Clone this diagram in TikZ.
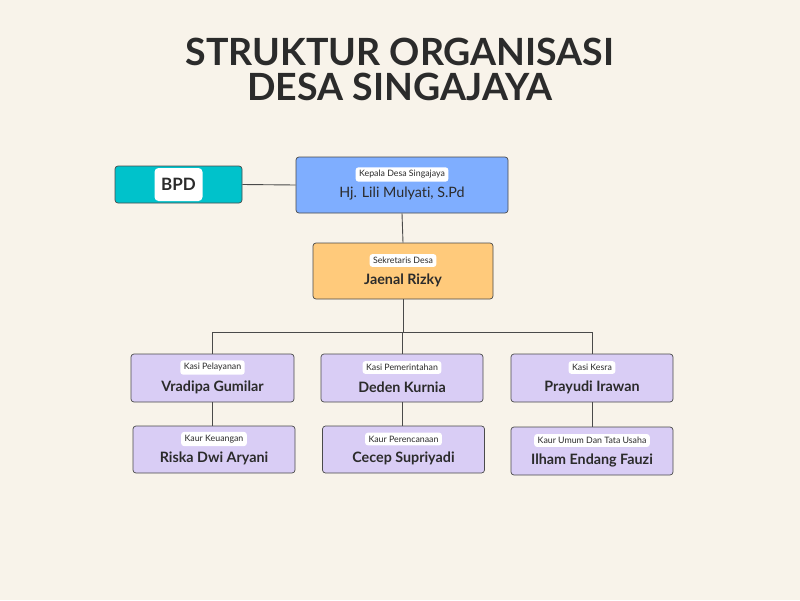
\documentclass[tikz,border=0pt]{standalone}
\usepackage{fontspec}
\setmainfont{Lato}[Ligatures={NoCommon,NoRare}]
\usetikzlibrary{positioning}
\definecolor{paper}{HTML}{F8F3EA}
\definecolor{ink}{HTML}{2B2B2B}
\definecolor{linegray}{HTML}{4A4A4A}
\definecolor{bpdteal}{HTML}{00C2CB}
\definecolor{kadesblue}{HTML}{7FAEFF}
\definecolor{sekorange}{HTML}{FFCA7B}
\definecolor{staffviolet}{HTML}{D9CDF5}
\tikzset{
  orgbox/.style={draw=linegray,line width=0.7pt,rounded corners=3pt,inner sep=0pt},
  rolepill/.style={fill=white,rounded corners=3pt,inner xsep=3.5pt,inner ysep=3.2pt,text=ink,
    font=\fontsize{8.8}{9}\selectfont},
  persontext/.style={text=ink,font=\bfseries\fontsize{14.3}{15}\selectfont},
  orgline/.style={draw=linegray,line width=0.9pt},
  titletext/.style={text=ink,align=center,font=\bfseries\fontsize{37.5}{35}\selectfont}
}
% box name, centre x, centre y, width, height, fill, role, person
\newcommand{\orgunit}[8]{%
  \node[orgbox,fill=#6,minimum width=#4pt,minimum height=#5pt] (#1) at (#2,#3) {};
  \node[rolepill] (#1-role) at ([yshift=10.5pt]#1.center) {#7};
  \node[persontext] (#1-name) at ([yshift=-9pt]#1.center) {#8};
}

\begin{document}
\begin{tikzpicture}[x=1pt,y=-1pt]
  \useasboundingbox[fill=paper] (0,0) rectangle (800,600);
  \node[titletext] (title) at (400,69) {STRUKTUR ORGANISASI\\DESA SINGAJAYA};

  % BPD
  \node[orgbox,fill=bpdteal,minimum width=127pt,minimum height=37pt] (bpd) at (178.5,184.5) {};
  \node[fill=white,rounded corners=4pt,minimum width=48pt,minimum height=33pt,inner sep=0pt,
    text=ink,font=\bfseries\fontsize{17}{18}\selectfont] (bpd-name) at (bpd.center) {BPD};

  \orgunit{kades}{402}{185}{212}{56}{kadesblue}{Kepala Desa Singajaya}{\mdseries Hj. Lili Mulyati, S.Pd}
  \orgunit{sekdes}{403}{271}{180}{56}{sekorange}{Sekretaris Desa}{Jaenal Rizky}

  \orgunit{kspel}{212.5}{378}{163}{48}{staffviolet}{Kasi Pelayanan}{Vradipa Gumilar}
  \orgunit{kspem}{402}{378}{162}{48}{staffviolet}{Kasi Pemerintahan}{Deden Kurnia}
  \orgunit{kskes}{592}{378}{162}{48}{staffviolet}{Kasi Kesra}{Prayudi Irawan}

  \orgunit{kukeu}{214}{449.5}{162}{47}{staffviolet}{Kaur Keuangan}{Riska Dwi Aryani}
  \orgunit{kuren}{403.5}{449.5}{162}{47}{staffviolet}{Kaur Perencanaan}{Cecep Supriyadi}
  \orgunit{kuumum}{592}{451}{162}{48}{staffviolet}{Kaur Umum Dan Tata Usaha}{Ilham Endang Fauzi}

  \coordinate (split) at (403,332);
  \draw[orgline] (bpd.east) -- (kades.west);
  \draw[orgline] (kades.south) -- (sekdes.north);
  \draw[orgline] (sekdes.south) -- (split);
  \draw[orgline] (kspel.north) -- (kspel.north |- split) -- (kskes.north |- split) -- (kskes.north);
  \draw[orgline] (kspem.north) -- (kspem.north |- split);
  \draw[orgline] (kspel.south) -- (kspel.south |- kukeu.north);
  \draw[orgline] (kspem.south) -- (kspem.south |- kuren.north);
  \draw[orgline] (kskes.south) -- (kskes.south |- kuumum.north);
\end{tikzpicture}
\end{document}
